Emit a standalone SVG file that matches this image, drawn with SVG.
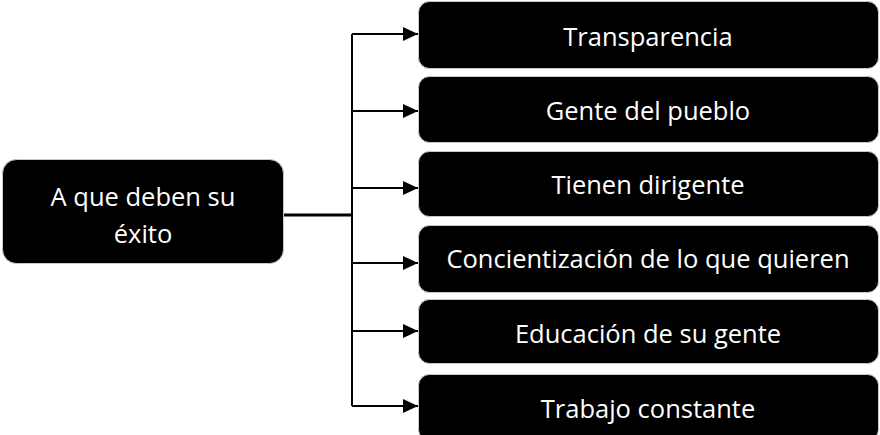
<svg xmlns="http://www.w3.org/2000/svg" width="880" height="435" viewBox="0 0 880 435">
<defs>
<style>
.box{fill:#000;stroke:#c8c8c8;stroke-width:1}
.lbl{fill:#fff;font-family:"Open Sans","Liberation Sans",sans-serif;font-size:25.5px;text-anchor:middle}
.con{fill:none;stroke:#000;stroke-width:2}
</style>
<marker id="ah" markerWidth="15" markerHeight="14" refX="15" refY="7" orient="auto" markerUnits="userSpaceOnUse">
<path d="M0,0 L15,7 L0,14 Z" fill="#000"/>
</marker>
</defs>
<rect width="880" height="435" fill="#fff"/>
<g id="connectors">
<path class="con" style="stroke-width:3" d="M283,215 H352"/>
<path class="con" d="M352,34 V406"/>
<path class="con" d="M352,34 H418" marker-end="url(#ah)"/>
<path class="con" d="M352,111 H418" marker-end="url(#ah)"/>
<path class="con" d="M352,188 H418" marker-end="url(#ah)"/>
<path class="con" d="M352,263 H418" marker-end="url(#ah)"/>
<path class="con" d="M352,331 H418" marker-end="url(#ah)"/>
<path class="con" d="M352,406 H418" marker-end="url(#ah)"/>
</g>
<g id="root">
<rect class="box" x="2.5" y="159.5" width="281" height="104" rx="14"/>
<text class="lbl" x="143" y="206">A que deben su</text>
<text class="lbl" x="143" y="243">éxito</text>
</g>
<g id="n1">
<rect class="box" x="418.5" y="1.5" width="460" height="67" rx="11"/>
<text class="lbl" x="648" y="46">Transparencia</text>
</g>
<g id="n2">
<rect class="box" x="418.5" y="76.5" width="460" height="66" rx="11"/>
<text class="lbl" x="648" y="120">Gente del pueblo</text>
</g>
<g id="n3">
<rect class="box" x="418.5" y="151.5" width="460" height="65" rx="11"/>
<text class="lbl" x="648" y="194">Tienen dirigente</text>
</g>
<g id="n4">
<rect class="box" x="418.5" y="225.5" width="460" height="67" rx="11"/>
<text class="lbl" x="648" y="268">Concientización de lo que quieren</text>
</g>
<g id="n5">
<rect class="box" x="418.5" y="299.5" width="460" height="64" rx="11"/>
<text class="lbl" x="648" y="343">Educación de su gente</text>
</g>
<g id="n6">
<rect class="box" x="418.5" y="374.5" width="460" height="66" rx="11"/>
<text class="lbl" x="648" y="418">Trabajo constante</text>
</g>
</svg>
